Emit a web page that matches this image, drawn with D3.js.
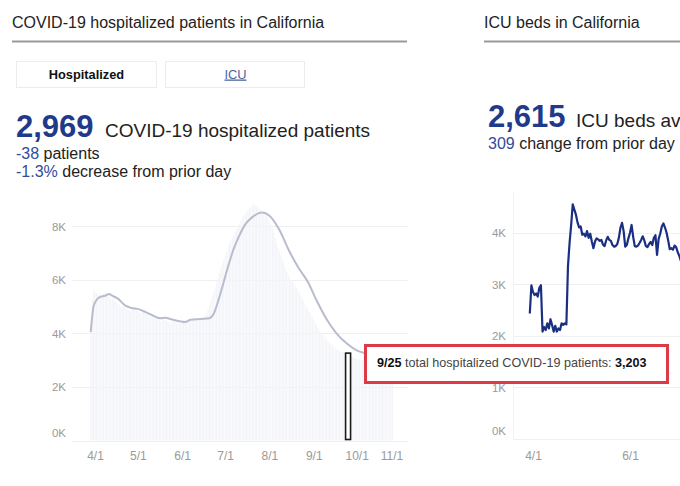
<!DOCTYPE html>
<html><head><meta charset="utf-8">
<script src="https://cdn.jsdelivr.net/npm/d3@7"></script>
<style>
html,body{margin:0;padding:0;background:#fff;}
svg{display:block;font-family:"Liberation Sans",Arial,Helvetica,sans-serif;}
</style></head><body>
<svg id="c" width="680" height="486"></svg>
<script>
// ---------- DATA ----------
// Daily hospitalized COVID-19 patients, California, from 2020-03-29 to 2020-10-26
const hospStartDate = "2020-03-29";
const hospitalizedDaily = [
  4040,5260,5600,5550,5500,5450,5500,5420,5450,5500,5550,5480,5400,5420,5300,5250,5300,5200,5150,5100,5050,4980,5000,5020,4950,4900,4880,4850,4820,4900,4950,4900,4850,
  4820,4780,4750,4800,4850,4780,4700,4680,4620,4600,4650,4700,4620,4560,4520,4480,4450,4500,4550,4520,4480,4450,4400,4380,4420,4480,4500,4450,4400,4380,4350,
  4420,4480,4500,4520,4480,4450,4470,4520,4550,4580,4560,4530,4500,4520,4560,4600,4680,4780,4900,5050,5200,5380,5550,5720,5900,6080,6250,6420,6580,6750,
  6900,7050,7200,7350,7450,7550,7650,7780,7880,7980,8080,8180,8280,8370,8450,8520,8600,8650,8700,8760,8820,8780,8740,8700,8650,8600,8550,8500,8450,8380,8300,
  8200,8050,7900,7750,7550,7400,7200,7050,6900,6750,6600,6450,6300,6200,6100,6000,5950,5850,5750,5700,5600,5500,5400,5300,5200,5100,5000,4900,4800,4700,4600,
  4500,4400,4300,4200,4100,4000,3950,3880,3820,3760,3700,3650,3600,3550,3500,3450,3400,3370,3340,3310,3290,3270,3250,3230,3203,3180,3150,3120,3100,3080,
  3060,3040,3020,3010,3000,2990,2980,2970,2960,2950,2940,2930,2950,2960,2970,2980,2990,3000,3010,3020,3030,3020,3010,3000,3007,2969
];
// Smoothed trend line
const hospTrendDates = ["2020-03-29","2020-03-31","2020-04-02","2020-04-04","2020-04-08","2020-04-11","2020-04-13","2020-04-17","2020-04-22","2020-04-26",
  "2020-05-02","2020-05-06","2020-05-10","2020-05-17","2020-05-20","2020-05-25","2020-06-03","2020-06-07","2020-06-14","2020-06-20","2020-06-23","2020-06-27",
  "2020-07-03","2020-07-07","2020-07-11","2020-07-15","2020-07-20","2020-07-27","2020-08-01","2020-08-08","2020-08-15","2020-08-21","2020-08-28",
  "2020-09-03","2020-09-10","2020-09-17","2020-09-25","2020-10-01","2020-10-06","2020-10-13","2020-10-20","2020-10-26"];
const hospTrendValues = [4040,5000,5230,5340,5400,5460,5400,5290,5040,4950,
  4890,4800,4700,4560,4580,4510,4420,4500,4530,4560,4730,5350,
  6470,7150,7650,8050,8330,8500,8380,7850,7050,6470,5900,
  5220,4520,3990,3580,3360,3270,3120,3030,2990];
const hospYTicks = [0,2000,4000,6000,8000];
const hospXTicks = ["2020-04-01","2020-05-01","2020-06-01","2020-07-01","2020-08-01","2020-09-01","2020-10-01","2020-11-01"];
const highlightDate = "2020-09-25";
const highlightValue = 3203;

// Daily ICU beds available, California, from 2020-03-30
const icuStartDate = "2020-03-30";
const icuDaily = [
  2430,2980,2850,2790,2820,2760,2930,2980,2080,2170,2110,2240,2140,2320,2210,2080,2190,2080,2140,2110,2240,2210,2240,2220,
  3350,3800,4150,4550,4450,4350,4200,4100,4120,3960,3980,3930,4030,3900,3980,3830,3700,3830,3890,3870,3840,3860,3770,3740,
  3850,3920,3860,3840,3760,3730,3740,3780,3900,4100,4190,4030,3730,3760,3890,4000,4150,3920,3740,3730,3750,3800,3860,3930,
  3850,3740,3720,3780,3820,3760,3900,3950,3570,3880,3980,4120,4180,4100,4000,3850,3680,3700,3670,3750,3720,3620,3550,3450
];
const icuYTicks = [0,1000,2000,3000,4000];
const icuXTicks = ["2020-04-01","2020-06-01"];

// ---------- DRAW ----------
const parse = d3.timeParse("%Y-%m-%d");
const fmtMD = d => (d.getMonth()+1) + "/" + d.getDate();
const kFmt = d => (d/1000) + "K";
const svg = d3.select("#c");
const blue = "#1f3a8a", blueSm = "#2f4c9c", ink = "#222";

// Headers
svg.append("text").attr("x",12).attr("y",28).attr("font-size",16).attr("fill",ink).text("COVID-19 hospitalized patients in California");
svg.append("line").attr("x1",12).attr("x2",407).attr("y1",41.5).attr("y2",41.5).attr("stroke","#9a9a9a").attr("stroke-width",2);
svg.append("text").attr("x",484).attr("y",28).attr("font-size",16).attr("fill",ink).text("ICU beds in California");
svg.append("line").attr("x1",484).attr("x2",680).attr("y1",41.5).attr("y2",41.5).attr("stroke","#9a9a9a").attr("stroke-width",2);

// Tabs
svg.append("rect").attr("x",16.5).attr("y",61.5).attr("width",140).attr("height",26).attr("fill","#fff").attr("stroke","#ececec");
svg.append("rect").attr("x",165.5).attr("y",61.5).attr("width",139).attr("height",26).attr("fill","#fff").attr("stroke","#ececec");
svg.append("text").attr("x",86.5).attr("y",78.5).attr("text-anchor","middle").attr("font-size",12.8).attr("font-weight","bold").attr("fill","#111").text("Hospitalized");
svg.append("text").attr("x",235.5).attr("y",78.5).attr("text-anchor","middle").attr("font-size",12.8).attr("fill","#4a64a0").attr("text-decoration","underline").text("ICU");

// Big numbers left
svg.append("text").attr("x",16).attr("y",136.5).attr("font-size",31).attr("font-weight","bold").attr("fill",blue).text("2,969");
svg.append("text").attr("x",105).attr("y",136.5).attr("font-size",19).attr("fill",ink).text("COVID-19 hospitalized patients");
const l1 = svg.append("text").attr("x",16).attr("y",158.5).attr("font-size",16).attr("fill",ink);
l1.append("tspan").attr("fill",blueSm).text("-38");
l1.append("tspan").text(" patients");
const l2 = svg.append("text").attr("x",16).attr("y",177).attr("font-size",16).attr("fill",ink);
l2.append("tspan").attr("fill",blueSm).text("-1.3%");
l2.append("tspan").text(" decrease from prior day");

// Big numbers right
svg.append("text").attr("x",488).attr("y",126.5).attr("font-size",31).attr("font-weight","bold").attr("fill",blue).text("2,615");
svg.append("text").attr("x",576).attr("y",126.5).attr("font-size",19).attr("fill",ink).text("ICU beds available");
const r1 = svg.append("text").attr("x",488).attr("y",148.5).attr("font-size",16).attr("fill",ink);
r1.append("tspan").attr("fill",blueSm).text("309");
r1.append("tspan").text(" change from prior day");

// ---- Left chart ----
const hStart = parse(hospStartDate);
const hospData = hospitalizedDaily.map((v,i) => ({date: d3.timeDay.offset(hStart, i), value: v}));
const hEnd = hospData[hospData.length-1].date;
const xL = d3.scaleTime().domain([hStart, hEnd]).range([90.7, 392.4]);
const yL = d3.scaleLinear().domain([0, 8000]).range([440.5, 226]);
const gridL = svg.append("g");
gridL.selectAll("line").data(hospYTicks).join("line")
  .attr("x1",72).attr("x2",408).attr("y1",d=>Math.round(yL(d))+0.5).attr("y2",d=>Math.round(yL(d))+0.5)
  .attr("stroke","#f0f0f0");

svg.append("g").selectAll("rect").data(hospData).join("rect")
  .attr("x",d=>xL(d.date)-0.5).attr("width",1.05)
  .attr("y",d=>yL(d.value)).attr("height",d=>yL(0)-yL(d.value))
  .attr("fill","#f3f4f9");

const trend = hospTrendDates.map((d,i)=>({date: parse(d), value: hospTrendValues[i]}));
svg.append("path").datum(trend)
  .attr("d", d3.line().x(d=>xL(d.date)).y(d=>yL(d.value)).curve(d3.curveMonotoneX))
  .attr("fill","none").attr("stroke","#b8bccd").attr("stroke-width",2);

// highlighted bar
const hd = parse(highlightDate);
svg.append("rect").attr("x",xL(hd)-2.5).attr("width",5)
  .attr("y",yL(highlightValue)-1.5).attr("height",yL(0)-yL(highlightValue)+0.5)
  .attr("fill","#fff").attr("stroke","#1a1a1a").attr("stroke-width",1.6);

const yAxL = svg.append("g").attr("transform","translate(66,0)")
  .call(d3.axisLeft(yL).tickValues(hospYTicks).tickFormat(kFmt).tickSize(0).tickPadding(0));
yAxL.select(".domain").remove();
yAxL.selectAll("text").attr("font-size",11.5).attr("fill","#9a9a9a").attr("font-family","Liberation Sans, Arial, sans-serif")
  .attr("dy", d => d===0 ? "-0.35em" : "0.35em");

const xAxL = svg.append("g").attr("transform","translate(0,448)")
  .call(d3.axisBottom(xL).tickValues(hospXTicks.map(parse)).tickFormat(fmtMD).tickSize(0).tickPadding(0));
xAxL.select(".domain").remove();
xAxL.selectAll("text").attr("font-size",12).attr("fill","#9a9a9a").attr("font-family","Liberation Sans, Arial, sans-serif").attr("dy","1em");
// keep last label inside the plot
xAxL.selectAll(".tick").each(function(d){
  const px = xL(d);
  if (px > 392) d3.select(this).attr("transform", `translate(392,0)`);
});

// ---- Right chart ----
const iStart = parse(icuStartDate);
const icuData = icuDaily.map((v,i)=>({date: d3.timeDay.offset(iStart,i), value: v}));
const iEnd = icuData[icuData.length-1].date;
const xR = d3.scaleTime().domain([iStart, iEnd]).range([529.8, 680.9]);
const yR = d3.scaleLinear().domain([0, 4000]).range([438.7, 232.7]);
svg.append("g").selectAll("line").data(icuYTicks).join("line")
  .attr("x1",513).attr("x2",680).attr("y1",d=>Math.round(yR(d))+0.5).attr("y2",d=>Math.round(yR(d))+0.5)
  .attr("stroke","#efefef");
svg.append("line").attr("x1",513.5).attr("x2",513.5).attr("y1",192).attr("y2",440).attr("stroke","#f2f2f2");
svg.append("path").datum(icuData)
  .attr("d", d3.line().x(d=>xR(d.date)).y(d=>yR(d.value)))
  .attr("fill","none").attr("stroke","#1b2f82").attr("stroke-width",2.2).attr("stroke-linejoin","round");
const yAxR = svg.append("g").attr("transform","translate(506,0)")
  .call(d3.axisLeft(yR).tickValues(icuYTicks).tickFormat(kFmt).tickSize(0).tickPadding(0));
yAxR.select(".domain").remove();
yAxR.selectAll("text").attr("font-size",11.5).attr("fill","#9a9a9a").attr("font-family","Liberation Sans, Arial, sans-serif")
  .attr("dy", d => d===0 ? "-0.35em" : "0.35em");
const xAxR = svg.append("g").attr("transform","translate(0,448)")
  .call(d3.axisBottom(xR).tickValues(icuXTicks.map(parse)).tickFormat(fmtMD).tickSize(0).tickPadding(0));
xAxR.select(".domain").remove();
xAxR.selectAll("text").attr("font-size",12).attr("fill","#9a9a9a").attr("font-family","Liberation Sans, Arial, sans-serif").attr("dy","1em");

// ---- Tooltip ----
const tip = svg.append("g");
tip.append("rect").attr("x",365.5).attr("y",345.5).attr("width",302).attr("height",37)
  .attr("fill","#fff").attr("stroke","#dc3a45").attr("stroke-width",3);
const tt = tip.append("text").attr("x",377).attr("y",367).attr("font-size",12.6).attr("fill","#444");
tt.append("tspan").attr("font-weight","bold").attr("fill","#111").text(fmtMD(hd));
tt.append("tspan").text(" total hospitalized COVID-19 patients: ");
tt.append("tspan").attr("font-weight","bold").attr("fill","#111").text(d3.format(",")(highlightValue));
</script>
</body></html>
